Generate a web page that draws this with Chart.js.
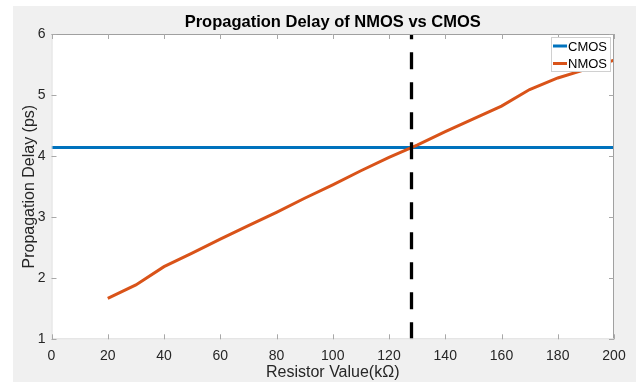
<!DOCTYPE html>
<html>
<head>
<meta charset="utf-8">
<script src="https://cdn.jsdelivr.net/npm/chart.js@4"></script>
<style>
  html, body { margin: 0; padding: 0; background: #fff; }
  #wrap { width: 636px; height: 382px; }
</style>
</head>
<body>
<div id="wrap"><canvas id="chart" width="636" height="382"></canvas></div>
<script>
// resistor values (kOhm) and measured delays (ps)
const resistor = [20, 30, 40, 50, 60, 70, 80, 90, 100, 110, 120, 130, 140, 150, 160, 170, 180, 190, 200];
const nmosDelay = [1.67, 1.89, 2.19, 2.41, 2.64, 2.86, 3.08, 3.31, 3.53, 3.76, 3.98, 4.18, 4.40, 4.61, 4.82, 5.09, 5.28, 5.42, 5.57];
const cmosRange = [0, 200];
const cmosDelay = 4.14;
const crossover = 128;
const xTicks = [0, 20, 40, 60, 80, 100, 120, 140, 160, 180, 200];
const yTicks = [1, 2, 3, 4, 5, 6];

const FONT = "'Liberation Sans', Arial, Helvetica, sans-serif";
const TEXT = '#262626';

// figure background + white axes area
const backdrop = {
    id: 'backdrop',
    beforeDraw(chart) {
        const { ctx, chartArea: a } = chart;
        ctx.save();
        ctx.fillStyle = '#ffffff';
        ctx.fillRect(0, 0, chart.width, chart.height);
        ctx.fillStyle = '#f0f0f0';
        ctx.fillRect(13, 6, chart.width - 13, chart.height - 6);
        ctx.fillStyle = '#ffffff';
        ctx.fillRect(a.left, a.top, a.right - a.left, a.bottom - a.top);
        ctx.restore();
    }
};

// matlab style box, inward ticks, title and legend
const matlabAxes = {
    id: 'matlabAxes',
    afterDraw(chart) {
        const { ctx, chartArea: a } = chart;
        const xs = chart.scales.x, ys = chart.scales.y;
        ctx.save();
        ctx.lineWidth = 1;

        // box
        ctx.strokeStyle = '#a0a0a0';
        ctx.beginPath();
        ctx.moveTo(a.left, a.top + 0.5);
        ctx.lineTo(a.right - 0.5, a.top + 0.5);
        ctx.lineTo(a.right - 0.5, a.bottom);
        ctx.stroke();
        ctx.strokeStyle = '#dcdcdc';
        ctx.beginPath();
        ctx.moveTo(a.left + 0.5, a.top);
        ctx.lineTo(a.left + 0.5, a.bottom - 0.5);
        ctx.lineTo(a.right, a.bottom - 0.5);
        ctx.stroke();

        // inward ticks
        ctx.strokeStyle = '#a8a8a8';
        ctx.beginPath();
        xTicks.forEach(v => {
            const px = Math.round(xs.getPixelForValue(v)) + 0.5;
            ctx.moveTo(px, a.bottom); ctx.lineTo(px, a.bottom - 5);
            ctx.moveTo(px, a.top); ctx.lineTo(px, a.top + 5);
        });
        yTicks.forEach(v => {
            const py = Math.round(ys.getPixelForValue(v)) + 0.5;
            ctx.moveTo(a.left, py); ctx.lineTo(a.left + 5, py);
            ctx.moveTo(a.right, py); ctx.lineTo(a.right - 5, py);
        });
        ctx.stroke();

        // title, centred on the axes
        ctx.fillStyle = '#000';
        ctx.font = 'bold 16.5px ' + FONT;
        ctx.textAlign = 'center';
        ctx.textBaseline = 'alphabetic';
        ctx.fillText('Propagation Delay of NMOS vs CMOS', (a.left + a.right) / 2, 27);

        // legend
        const items = chart.data.datasets.filter(d => d.inLegend);
        const bx = 551, by = 37, bw = 60, bh = 35;
        ctx.fillStyle = '#fff';
        ctx.fillRect(bx, by, bw, bh);
        ctx.strokeStyle = '#d0d0d0';
        ctx.strokeRect(bx + 0.5, by + 0.5, bw - 1, bh - 1);
        ctx.font = '13px ' + FONT;
        ctx.textAlign = 'left';
        ctx.textBaseline = 'middle';
        items.forEach((d, i) => {
            const y = by + 9 + i * 17.5;
            ctx.strokeStyle = d.borderColor;
            ctx.lineWidth = 3;
            ctx.beginPath();
            ctx.moveTo(bx + 2, y); ctx.lineTo(bx + 16, y);
            ctx.stroke();
            ctx.fillStyle = '#000';
            ctx.fillText(d.label, bx + 17, y + 1);
        });
        ctx.restore();
    }
};

new Chart(document.getElementById('chart'), {
    type: 'line',
    data: {
        datasets: [
            {
                label: 'CMOS',
                inLegend: true,
                data: cmosRange.map(r => ({ x: r, y: cmosDelay })),
                borderColor: '#0072BD',
                borderWidth: 3,
                pointRadius: 0,
                order: 2
            },
            {
                label: 'NMOS',
                inLegend: true,
                data: resistor.map((r, i) => ({ x: r, y: nmosDelay[i] })),
                borderColor: '#D95319',
                borderWidth: 3,
                pointRadius: 0,
                tension: 0,
                order: 1
            },
            {
                label: 'crossover',
                data: [{ x: crossover, y: 1 }, { x: crossover, y: 6 }],
                borderColor: '#000000',
                borderWidth: 3.3,
                borderDash: [17, 13],
                pointRadius: 0,
                order: 0
            }
        ]
    },
    options: {
        responsive: false,
        animation: false,
        devicePixelRatio: 1,
        layout: { padding: { left: 13, top: 34, right: 22, bottom: 0 } },
        plugins: {
            legend: { display: false },
            title: { display: false },
            tooltip: { enabled: false }
        },
        scales: {
            x: {
                type: 'linear',
                min: 0,
                max: 200,
                afterBuildTicks: s => { s.ticks = xTicks.map(v => ({ value: v })); },
                afterFit: s => { s.height = 42.7; },
                grid: { display: false, drawTicks: false },
                border: { display: false },
                ticks: { color: TEXT, font: { family: FONT, size: 14 }, padding: 8, maxRotation: 0 },
                title: {
                    display: true,
                    text: 'Resistor Value(kΩ)',
                    color: TEXT,
                    font: { family: FONT, size: 16 },
                    padding: { top: 0, bottom: 0 }
                }
            },
            y: {
                type: 'linear',
                min: 1,
                max: 6,
                afterBuildTicks: s => { s.ticks = yTicks.map(v => ({ value: v })); },
                afterFit: s => { s.width = 38.5; },
                grid: { display: false, drawTicks: false },
                border: { display: false },
                ticks: { color: TEXT, font: { family: FONT, size: 14 }, padding: 6 },
                title: {
                    display: true,
                    text: 'Propagation Delay (ps)',
                    color: TEXT,
                    font: { family: FONT, size: 16 },
                    padding: { top: 7, bottom: 0 }
                }
            }
        }
    },
    plugins: [backdrop, matlabAxes]
});
</script>
</body>
</html>
